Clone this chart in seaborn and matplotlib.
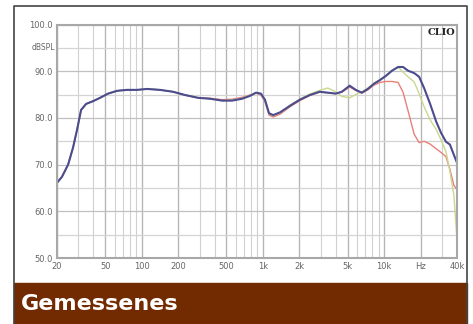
import numpy as np
import pandas as pd
import seaborn as sns
from matplotlib import pyplot as plt
from matplotlib.patches import Rectangle
from matplotlib.lines import Line2D

# Frequenzgang (Hz / dBSPL)
freq = [20, 22, 24.7, 27.1, 29.3, 31.6, 34.8, 39.8, 45.3, 52.8, 62.7, 75.6, 91.5,
        110.7, 141.6, 181, 228, 292, 367, 461, 557, 673, 781, 877, 964, 1040,
        1124, 1218, 1388, 1675, 2020, 2440, 2940, 3430, 3990, 4480, 5210, 5840,
        6560, 7350, 8240, 9250, 10370, 11630, 13050, 14350, 15790, 17730, 19480,
        21400, 24000, 26940, 29540, 32420, 34950, 37670, 40000]

blau = [66.1, 67.4, 70.0, 73.6, 77.5, 81.7, 83.0, 83.6, 84.3, 85.2, 85.8, 86.0, 86.0,
        86.2, 86.0, 85.6, 84.9, 84.3, 84.1, 83.7, 83.7, 84.1, 84.7, 85.4, 85.2, 83.9,
        81.0, 80.6, 81.2, 82.6, 83.9, 84.9, 85.6, 85.4, 85.2, 85.6, 86.9, 86.0,
        85.4, 86.2, 87.3, 88.1, 89.0, 90.1, 90.9, 90.9, 90.1, 89.6, 88.8,
        86.4, 83.0, 79.2, 76.8, 74.9, 74.3, 72.1, 70.4]

gruen = [66.1, 67.4, 70.0, 73.6, 77.5, 81.7, 83.0, 83.6, 84.3, 85.2, 85.8, 86.0, 86.0,
         86.2, 86.0, 85.6, 84.9, 84.3, 84.1, 83.7, 83.8, 84.2, 84.8, 85.4, 85.1, 83.8,
         80.9, 80.5, 81.1, 82.7, 84.0, 85.1, 85.9, 86.4, 85.6, 84.6, 84.3, 85.0,
         85.6, 86.4, 87.4, 88.2, 89.1, 90.2, 90.9, 89.8, 88.8, 87.7, 85.2,
         82.4, 79.6, 77.5, 75.3, 72.8, 68.6, 63.5, 54.0]

rot = [66.1, 67.4, 70.0, 73.6, 77.5, 81.7, 83.0, 83.6, 84.3, 85.2, 85.8, 86.0, 86.0,
       86.2, 86.0, 85.6, 84.9, 84.3, 84.2, 83.9, 84.0, 84.4, 84.9, 85.3, 84.9, 83.5,
       80.6, 80.2, 80.8, 82.4, 83.7, 84.8, 85.5, 85.4, 85.2, 85.5, 86.6, 85.9,
       85.3, 86.0, 87.0, 87.6, 87.8, 87.8, 87.6, 85.5, 81.5, 76.5, 74.7,
       75.0, 74.4, 73.4, 72.6, 71.7, 69.0, 65.6, 64.6]

y_ticks = [100, 90, 80, 70, 60, 50]
x_ticks = [20, 50, 100, 200, 500, 1000, 2000, 5000, 10000, 20000, 40000]
x_labels = ["20", "50", "100", "200", "500", "1k", "2k", "5k", "10k", "Hz", "40k"]

df = pd.DataFrame({"f": freq * 3,
                   "db": rot + gruen + blau,
                   "kurve": ["rot"] * len(freq) + ["gruen"] * len(freq) + ["blau"] * len(freq)})

sns.set_style("white")
W, H = 473, 324
fig = plt.figure(figsize=(W / 100, H / 100), dpi=100)
ax = fig.add_axes([57 / W, 1 - 258 / H, 400 / W, (258 - 24.5) / H])

# Raster
minor = []
for dec in [10, 100, 1000, 10000]:
    for m in range(1, 10):
        v = m * dec
        if 20 <= v <= 40000:
            minor.append(v)
for v in minor:
    ax.axvline(v, color="#d0d0d0", lw=0.8, zorder=0)
for v in x_ticks:
    ax.axvline(v, color="#b4b4b4", lw=0.9, zorder=0)
for v in range(50, 101, 5):
    ax.axhline(v, color="#c0c0c0" if v % 10 == 0 else "#d4d4d4", lw=0.9, zorder=0)

sns.lineplot(data=df, x="f", y="db", hue="kurve", size="kurve",
             palette={"rot": "#e8807a", "gruen": "#c9d88f", "blau": "#4a4c8e"},
             sizes={"rot": 1.0, "gruen": 1.0, "blau": 1.5},
             legend=False, ax=ax, sort=False)

ax.set_xscale("log")
ax.set_xlim(20, 40000)
ax.set_ylim(50, 100)
ax.set_xticks(x_ticks)
ax.set_xticklabels(x_labels)
ax.xaxis.set_minor_locator(plt.NullLocator())
ax.set_yticks(y_ticks)
ax.set_yticklabels([f"{v:.1f}" for v in y_ticks])
ax.tick_params(axis="both", length=0, labelsize=6, colors="#666666", pad=3)
ax.set_xlabel("")
ax.set_ylabel("")
for s in ax.spines.values():
    s.set_color("#a8a8a8")
    s.set_linewidth(1.5)

ax.text(-0.005, 95, "dBSPL", transform=ax.get_yaxis_transform(),
        ha="right", va="center", fontsize=5.5, color="#666666")
ax.text(0.995, 0.985, "CLIO", transform=ax.transAxes, ha="right", va="top",
        fontsize=7, fontweight="bold", family="DejaVu Serif", color="#222222")

# Rahmen und Banner
fig.patches.append(Rectangle((14 / W, 0), 453 / W, (H - 283) / H,
                             transform=fig.transFigure, color="#722a00", zorder=1))
fig.lines.append(Line2D([14 / W, 14 / W, 467 / W, 467 / W],
                        [0, 1 - 6 / H, 1 - 6 / H, 0],
                        transform=fig.transFigure, color="#444444", lw=1.2))
fig.text(21 / W, 1 - 309.5 / H, "Gemessenes", fontsize=16, fontweight="bold",
         family="DejaVu Sans", color="white", ha="left", va="baseline")

fig.savefig("out.png", dpi=100)
